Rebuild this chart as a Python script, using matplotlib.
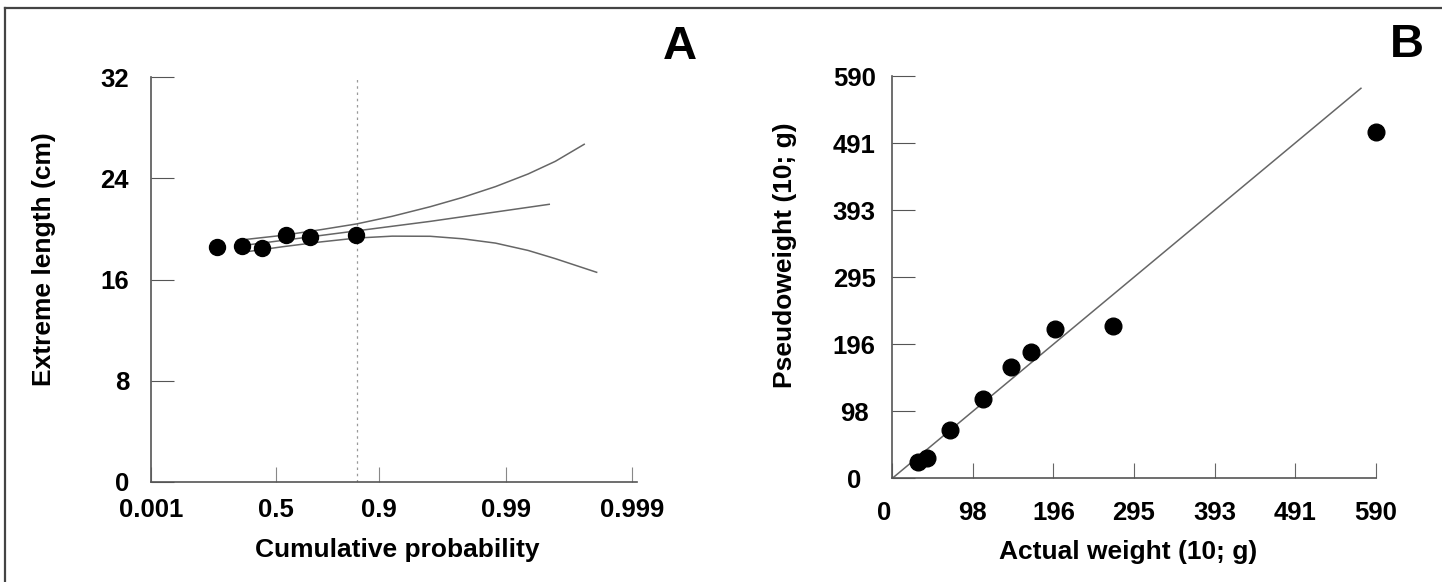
import numpy as np
import matplotlib
matplotlib.use('Agg')
import matplotlib.pyplot as plt
from matplotlib.lines import Line2D
from matplotlib.transforms import ScaledTranslation

plt.rcParams['font.family'] = ['Liberation Sans', 'DejaVu Sans']
plt.rcParams['font.weight'] = 'bold'
plt.rcParams['axes.labelweight'] = 'bold'

# Panel A: extreme length on a Gumbel probability axis
prob_ticks = [0.001, 0.5, 0.9, 0.99, 0.999]
prob_labels = ['0.001', '0.5', '0.9', '0.99', '0.999']
length_ticks = [0, 8, 16, 24, 32]
obs_prob = [0.130, 0.275, 0.407, 0.559, 0.690, 0.852]
obs_length = [18.6, 18.65, 18.5, 19.55, 19.4, 19.5]
ref_prob = 0.855  # dotted reference line

fit_prob = [0.3057, 0.9601, 0.99544]
fit_length = [18.73, 20.6, 21.95]
upper_prob = [0.3057, 0.5452, 0.7400, 0.8545, 0.9212, 0.9601, 0.97788,
              0.98780, 0.99328, 0.99592, 0.99760]
upper_length = [19.18, 19.5, 19.95, 20.4, 21.0, 21.76, 22.5, 23.35, 24.35, 25.35, 26.7]
lower_prob = [0.3057, 0.5452, 0.7400, 0.8545, 0.9212, 0.9601, 0.97788,
              0.98780, 0.99328, 0.99592, 0.99809]
lower_length = [18.2, 18.6, 18.98, 19.28, 19.43, 19.42, 19.22, 18.88, 18.3, 17.65, 16.57]

# Panel B: pseudoweight vs actual weight
weight_ticks = [0, 98.33, 196.67, 295, 393.33, 491.67, 590]
weight_labels = ['0', '98', '196', '295', '393', '491', '590']
actual = [31.8, 42.0, 70.5, 110.4, 145.4, 169.7, 198.0, 269.8, 589.9]
pseudo = [24.3, 30.2, 70.8, 115.8, 162.6, 185.5, 219.2, 223.6, 508.1]
line_end = 572


def gumbel(p):
    p = np.clip(np.asarray(p, dtype=float), 1e-12, 1 - 1e-12)
    return -np.log(-np.log(p))


def gumbel_inv(y):
    return np.exp(-np.exp(-np.asarray(y, dtype=float)))


fig = plt.figure(figsize=(14.42, 5.82), dpi=100)
spine_col = '#555555'
curve_col = '#666666'

# ---- panel A
ax1 = fig.add_axes([151 / 1442, 1 - 481.7 / 582, 486 / 1442, 404.4 / 582])
ax1.set_xscale('function', functions=(gumbel, gumbel_inv))
ax1.set_xlim(0.001, 0.99909)
ax1.set_ylim(0, 32)
ax1.axvline(ref_prob, color='#999999', lw=0.9, ls=(0, (2, 3)), zorder=1)
ax1.plot(upper_prob, upper_length, color=curve_col, lw=1.1, zorder=2)
ax1.plot(fit_prob, fit_length, color=curve_col, lw=1.1, zorder=2)
ax1.plot(lower_prob, lower_length, color=curve_col, lw=1.1, zorder=2)
ax1.plot(obs_prob, obs_length, 'o', color='black', ms=11.5, zorder=3)
ax1.set_xticks(prob_ticks, prob_labels)
ax1.set_yticks(length_ticks)
ax1.tick_params(axis='x', direction='in', length=10.5, width=0.8, color='#888888',
                pad=11.5, labelsize=18.5)
ax1.tick_params(axis='y', direction='in', length=16.5, width=0.8, color=spine_col,
                pad=15.8, labelsize=18.5)
ax1.set_xlabel('Cumulative probability', fontsize=19, fontweight='bold', va='center')
ax1.xaxis.set_label_coords(0.507, -0.168)
ax1.set_ylabel('Extreme length (cm)', fontsize=19, fontweight='bold', va='center')
ax1.yaxis.set_label_coords(-0.221, 0.551)

# ---- panel B
ax2 = fig.add_axes([892.3 / 1442, 1 - 478.3 / 582, 483.4 / 1442, 402.3 / 582])
ax2.set_xlim(0, 590)
ax2.set_ylim(0, 590)
ax2.plot([0, line_end], [0, line_end], color=curve_col, lw=1.1, zorder=2)
ax2.plot(actual, pseudo, 'o', color='black', ms=12, zorder=3, clip_on=False)
ax2.set_xticks(weight_ticks, weight_labels)
ax2.set_yticks(weight_ticks, weight_labels, ha='center')
ax2.tick_params(axis='x', direction='in', length=10.5, width=0.8, color='#666666',
                pad=16, labelsize=18.5)
ax2.tick_params(axis='y', direction='in', length=16.5, width=0.8, color=spine_col,
                pad=27.4, labelsize=18.5)
ax2.set_xlabel('Actual weight (10; g)', fontsize=19, fontweight='bold', va='center')
ax2.xaxis.set_label_coords(0.488, -0.183)
ax2.set_ylabel('Pseudoweight (10; g)', fontsize=19, fontweight='bold', va='center')
ax2.yaxis.set_label_coords(-0.221, 0.555)

# the "0" under the origin sits a little to the left in the original
zero_lab = ax2.get_xticklabels()[0]
zero_lab.set_transform(zero_lab.get_transform() +
                       ScaledTranslation(-8 / 100, 0, fig.dpi_scale_trans))

for ax in (ax1, ax2):
    ax.spines['top'].set_visible(False)
    ax.spines['right'].set_visible(False)
    for s in ('left', 'bottom'):
        ax.spines[s].set_color(spine_col)
        ax.spines[s].set_linewidth(1.2)
    ax.set_facecolor('none')

# panel letters
fig.text(680 / 1442, 1 - 59 / 582, 'A', fontsize=34, fontweight='bold',
         ha='center', va='baseline')
fig.text(1407 / 1442, 1 - 57 / 582, 'B', fontsize=34, fontweight='bold',
         ha='center', va='baseline')

# scanned frame, top and left edges
fig.add_artist(Line2D([5 / 1442, 1], [1 - 8 / 582, 1 - 8 / 582], color='#444444', lw=1.6))
fig.add_artist(Line2D([5 / 1442, 5 / 1442], [0, 1 - 8 / 582], color='#444444', lw=1.6))

fig.savefig('out.png', dpi=100)
